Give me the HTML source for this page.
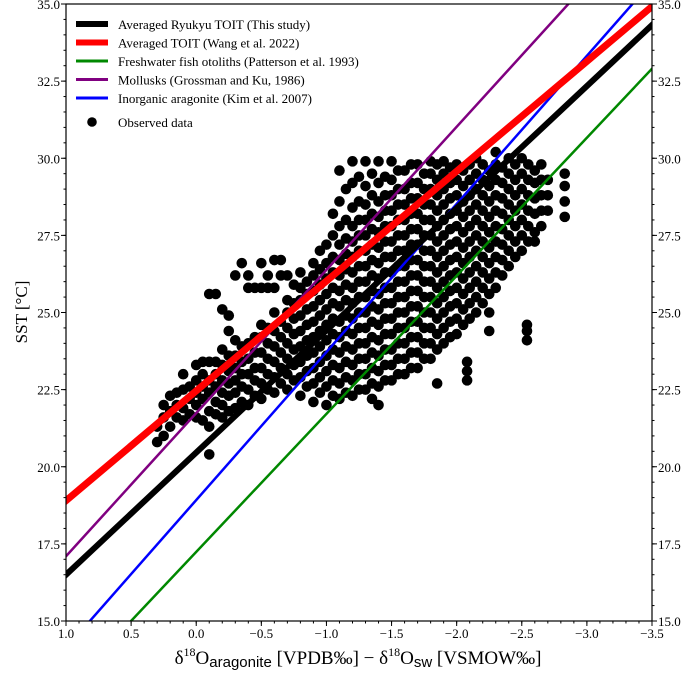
<!DOCTYPE html>
<html><head><meta charset="utf-8"><style>
html,body{margin:0;padding:0;background:#fff;width:685px;height:681px;overflow:hidden}
svg{display:block}
svg text{font-family:"Liberation Serif",serif;fill:#000}
</style></head><body>
<svg id="c" width="685" height="681" xmlns="http://www.w3.org/2000/svg">
<text x="0" y="0" transform="translate(27,312) rotate(-90)" text-anchor="middle" font-size="17">SST [°C]</text>
<text x="358" y="664" text-anchor="middle" font-size="19">δ<tspan font-size="12" dy="-8">18</tspan><tspan dy="8">O</tspan><tspan font-size="15" dy="3" style="font-family:'Liberation Sans',sans-serif">aragonite</tspan><tspan dy="-3"> [VPDB‰] − δ</tspan><tspan font-size="12" dy="-8">18</tspan><tspan dy="8">O</tspan><tspan font-size="15" dy="3" style="font-family:'Liberation Sans',sans-serif">sw</tspan><tspan dy="-3"> [VSMOW‰]</tspan></text>
</svg>
<script>
const xTicks=[1.0,0.5,0.0,-0.5,-1.0,-1.5,-2.0,-2.5,-3.0,-3.5];
const yTicks=[15.0,17.5,20.0,22.5,25.0,27.5,30.0,32.5,35.0];
const seriesNames=["Averaged Ryukyu TOIT (This study)","Averaged TOIT (Wang et al. 2022)","Freshwater fish otoliths (Patterson et al. 1993)","Mollusks (Grossman and Ku, 1986)","Inorganic aragonite (Kim et al. 2007)"];
const intercepts=[20.46,22.46,17.24,21.74,18.92];
const slopes=[-3.96,-3.56,-4.475,-4.64,-4.80];
const colors=["#000","#f00","#080","#800080","#00f"];
const widths=[6,7,2.5,2.5,2.5];
const obsColumnsD=[0.3,0.25,0.2,0.15,0.1,0.05,0.0,-0.05,-0.1,-0.15,-0.2,-0.25,-0.3,-0.35,-0.4,-0.45,-0.5,-0.55,-0.6,-0.65,-0.7,-0.75,-0.8,-0.85,-0.9,-0.95,-1.0,-1.05,-1.1,-1.15,-1.2,-1.25,-1.3,-1.35,-1.4,-1.45,-1.5,-1.55,-1.6,-1.65,-1.7,-1.75,-1.8,-1.85,-1.9,-1.95,-2.0,-2.05,-2.08,-2.1,-2.15,-2.2,-2.25,-2.3,-2.35,-2.4,-2.45,-2.5,-2.54,-2.55,-2.6,-2.65,-2.7,-2.83];
const obsColumnsT=[
[20.8,21.3],[21.0,21.6,22.0],[21.3,21.8,22.3],[21.6,22.0,22.4],[21.5,21.9,22.5,23.0],[21.7,22.2,22.6],
[21.6,22.0,22.4,22.8,23.3],[21.5,22.2,22.6,23.0,23.4],[20.4,21.3,21.8,22.4,22.8,23.4,25.6],[21.7,22.1,22.6,23.0,23.4,25.6],
[21.6,22.0,22.4,22.8,23.3,23.8,25.1],[21.8,22.3,22.7,23.1,23.6,24.4,24.9],[21.9,22.4,22.8,23.2,23.6,24.1,26.2],[22.1,22.6,23.0,23.4,23.9,26.6],
[22.0,22.5,23.0,23.5,24.0,25.8,26.2],[22.3,22.8,23.2,23.7,24.2,25.8],[22.2,22.7,23.2,23.7,24.2,24.6,25.8,26.6],[22.5,23.0,23.5,24.0,24.5,25.8,26.2],
[22.4,22.9,23.4,23.9,24.4,25.0,25.8,26.7],[22.7,23.2,23.7,24.2,24.7,26.2,26.7],[22.5,23.0,23.5,24.0,24.5,25.0,25.4,26.2],[22.8,23.3,23.8,24.3,24.8,25.3,25.9],
[22.3,22.9,23.4,23.9,24.4,24.9,25.4,25.8,26.3],[22.6,23.1,23.6,24.1,24.6,25.1,25.6,26.0],[22.1,22.7,23.2,23.7,24.2,24.7,25.2,25.7,26.2,26.6],
[22.4,22.9,23.4,23.9,24.4,24.9,25.4,25.9,26.4,27.0],[22.0,22.6,23.1,23.6,24.1,24.6,25.1,25.6,26.1,26.6,27.2],
[22.3,22.8,23.3,23.8,24.3,24.8,25.3,25.8,26.3,26.8,27.5,28.2],[22.2,22.7,23.2,23.7,24.2,24.7,25.2,25.7,26.2,26.7,27.2,27.8,28.6,29.6],
[22.4,22.9,23.4,23.9,24.4,24.9,25.4,25.9,26.4,26.9,27.4,28.0,29.0],[22.3,22.8,23.3,23.8,24.3,24.8,25.3,25.8,26.3,26.8,27.3,27.8,28.4,29.2,29.9],
[22.5,23.0,23.5,24.0,24.5,25.0,25.5,26.0,26.5,27.0,27.5,28.0,28.6,29.4],[22.5,23.0,23.5,24.0,24.5,25.0,25.5,26.0,26.5,27.0,27.5,28.0,28.5,29.1,29.9],
[22.2,22.7,23.2,23.7,24.2,24.7,25.2,25.7,26.2,26.7,27.2,27.7,28.2,28.8,29.5],[22.0,22.6,23.1,23.6,24.1,24.6,25.1,25.6,26.1,26.6,27.1,27.6,28.1,28.6,29.2,29.9],
[22.8,23.3,23.8,24.3,24.8,25.3,25.8,26.3,26.8,27.3,27.8,28.3,28.8,29.4],[22.8,23.3,23.8,24.3,24.8,25.3,25.8,26.3,26.8,27.3,27.8,28.3,28.8,29.3,29.9],
[23.0,23.5,24.0,24.5,25.0,25.5,26.0,26.5,27.0,27.5,28.0,28.5,29.0,29.6],[23.0,23.5,24.0,24.5,25.0,25.5,26.0,26.5,27.0,27.5,28.0,28.5,29.0,29.6],
[23.2,23.7,24.2,24.7,25.2,25.7,26.2,26.7,27.2,27.7,28.2,28.7,29.2,29.8],[23.2,23.7,24.2,24.7,25.2,25.7,26.2,26.7,27.2,27.7,28.2,28.7,29.2,29.8],
[23.5,24.0,24.5,25.0,25.5,26.0,26.5,27.0,27.5,28.0,28.5,29.0,29.5],[23.5,24.0,24.5,25.0,25.5,26.0,26.5,27.0,27.5,28.0,28.5,29.0,29.5,29.9],
[22.7,23.8,24.3,24.8,25.3,25.8,26.3,26.8,27.3,27.8,28.3,28.8,29.3,29.8],[24.0,24.5,25.0,25.5,26.0,26.5,27.0,27.5,28.0,28.5,29.0,29.5,29.9],
[24.2,24.7,25.2,25.7,26.2,26.7,27.2,27.7,28.2,28.7,29.2,29.7],[24.3,24.8,25.3,25.8,26.3,26.8,27.3,27.8,28.3,28.8,29.3,29.8],
[24.6,25.1,25.6,26.1,26.6,27.1,27.6,28.1,28.6,29.1,29.6],[22.8,23.1,23.4],[24.8,25.3,25.8,26.3,26.8,27.3,27.8,28.3,28.8,29.3,29.8],
[25.0,25.5,26.0,26.5,27.0,27.5,28.0,28.5,29.0,29.5,30.0],[25.3,25.8,26.3,26.8,27.3,27.8,28.3,28.8,29.3,29.8],
[24.4,25.0,25.6,26.1,26.6,27.1,27.6,28.1,28.6,29.1,29.6],[25.8,26.3,26.8,27.3,27.8,28.3,28.8,29.3,29.8,30.2],
[26.2,26.7,27.2,27.7,28.2,28.7,29.2,29.7],[26.5,27.0,27.5,28.0,28.5,29.0,29.5,30.0],[26.8,27.3,27.8,28.3,28.8,29.3,29.8],
[27.0,27.5,28.0,28.5,29.0,29.5,30.0],[24.1,24.4,24.6],[27.3,27.8,28.3,28.8,29.3,29.8],[27.3,27.6,28.2,28.7,29.2,29.6],
[27.8,28.3,28.8,29.3,29.8],[28.3,28.8,29.3],[28.1,28.6,29.1,29.5]];
const svg=document.getElementById('c');
const NS='http://www.w3.org/2000/svg';
const L=66,R=652,T=4,B=621,xmin=1.0,xmax=-3.5,ymin=15,ymax=35;
const X=d=>L+(d-xmin)/(xmax-xmin)*(R-L);
const Y=t=>B-(t-ymin)/(ymax-ymin)*(B-T);
function mk(tag,attrs,parent){const e=document.createElementNS(NS,tag);for(const k in attrs)e.setAttribute(k,attrs[k]);(parent||svg).appendChild(e);return e;}
const defs=mk('defs',{});const cp=mk('clipPath',{id:'pc'},defs);mk('rect',{x:L,y:T,width:R-L,height:B-T},cp);
const plot=mk('g',{'clip-path':'url(#pc)'});


for(let i=0;i<obsColumnsD.length;i++){for(const t of obsColumnsT[i]){const c=mk('circle',{cx:X(obsColumnsD[i]),cy:Y(t),r:5.3,fill:'#000'},plot);

}}
const order=[2,3,4,1,0];
for(const i of order){const l=mk('line',{x1:X(1.2),y1:Y(intercepts[i]+slopes[i]*1.2),x2:X(-3.7),y2:Y(intercepts[i]+slopes[i]*-3.7),stroke:colors[i],'stroke-width':widths[i]},plot);

}
const fr=mk('rect',{x:L,y:T,width:R-L,height:B-T,fill:'none',stroke:'#000','stroke-width':1.2});


for(const v of xTicks){const x=X(v);mk('line',{x1:x,x2:x,y1:B,y2:B+5,stroke:'#000'});
const t=mk('text',{x:x,y:B+17,'text-anchor':'middle','font-size':13});t.textContent=(v<0?'\u2212':'')+Math.abs(v).toFixed(1);

}
for(let k=0;k<=45;k++){const x=X(1.0-k*0.1);mk('line',{x1:x,x2:x,y1:B,y2:B+2.5,stroke:'#000'});}
for(const v of yTicks){const y=Y(v);mk('line',{x1:L-5,x2:L,y1:y,y2:y,stroke:'#000'});mk('line',{x1:R,x2:R+5,y1:y,y2:y,stroke:'#000'});
const t=mk('text',{x:L-6,y:y+5,'text-anchor':'end','font-size':13});t.textContent=v.toFixed(1);


const t2=mk('text',{x:R+6,y:y+5,'font-size':13});t2.textContent=v.toFixed(1);

}
for(let k=0;k<=40;k++){const y=Y(15+k*0.5);mk('line',{x1:L-2.5,x2:L,y1:y,y2:y,stroke:'#000'});mk('line',{x1:R,x2:R+2.5,y1:y,y2:y,stroke:'#000'});}
const lg=mk('g',{});


for(let i=0;i<5;i++){const y=24+i*18.5;mk('line',{x1:76,x2:108,y1:y,y2:y,stroke:colors[i],'stroke-width':i<2?6:3},lg);
const t=mk('text',{x:118,y:y+5,'font-size':13},lg);t.textContent=seriesNames[i];

}
mk('circle',{cx:92,cy:122,r:4.8,fill:'#000'},lg);
const ot=mk('text',{x:118,y:127,'font-size':13},lg);ot.textContent='Observed data';


</script>
</body></html>
